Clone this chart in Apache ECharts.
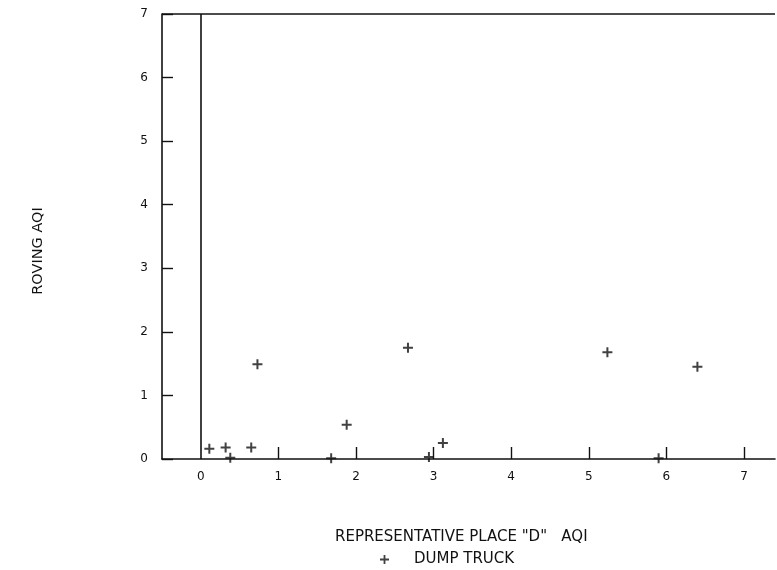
<!DOCTYPE html>
<html>
<head>
<meta charset="utf-8">
<title>Roving vs Representative Place D AQI</title>
<script src="https://cdn.jsdelivr.net/npm/echarts@6/dist/echarts.min.js"></script>
<style>
  html, body { margin: 0; padding: 0; background: #fff; }
  #chart { width: 777px; height: 570px; }
</style>
</head>
<body>
<div id="chart"></div>
<script>
// Dump truck readings: representative place "D" AQI (x) vs roving AQI (y)
const truckX = [0.11, 0.32, 0.65, 0.73, 0.38, 1.68, 1.88, 2.67, 2.94, 3.12, 5.24, 5.90, 6.40];
const truckY = [0.16, 0.18, 0.18, 1.49, 0.02, 0.01, 0.54, 1.75, 0.03, 0.25, 1.68, 0.01, 1.45];

// Axis tick values
const xLabelValues = [0, 1, 2, 3, 4, 5, 6, 7];
const xTickValues = [1, 2, 3, 4, 5, 6, 7];
const yTickValues = [0, 1, 2, 3, 4, 5, 6, 7];

const seriesName = 'DUMP TRUCK';
const xTitle = 'REPRESENTATIVE PLACE "D"   AQI';
const yTitle = 'ROVING AQI';

const ink = '#111111';
const font = '"DejaVu Sans", sans-serif';
const plus = 'path://M4,0h2v4h4v2h-4v4h-2v-4h-4v-2h4z';

const points = truckX.map((x, i) => [x, truckY[i]]);

const chart = echarts.init(document.getElementById('chart'), null, { renderer: 'canvas' });

chart.setOption({
  backgroundColor: '#ffffff',
  animation: false,
  grid: { left: 162, top: 14, right: 2, bottom: 111, containLabel: false },
  xAxis: {
    type: 'value',
    min: -0.5,
    max: 7.4,
    axisLine: { show: true, onZero: false, lineStyle: { color: ink, width: 1.6 } },
    axisTick: { show: true, inside: true, length: 12, customValues: xTickValues,
                lineStyle: { color: ink, width: 1.4 } },
    axisLabel: { show: true, customValues: xLabelValues, margin: 12,
                 fontFamily: font, fontSize: 12, color: ink },
    splitLine: { show: false }
  },
  yAxis: {
    type: 'value',
    min: 0,
    max: 7,
    interval: 1,
    axisLine: { show: true, onZero: false, lineStyle: { color: ink, width: 1.6 } },
    axisTick: { show: true, inside: true, length: 11, customValues: yTickValues,
                lineStyle: { color: ink, width: 1.4 } },
    axisLabel: { show: true, customValues: yTickValues, margin: 14,
                 fontFamily: font, fontSize: 12, color: ink },
    splitLine: { show: false }
  },
  legend: {
    data: [{ name: seriesName, icon: plus }],
    left: 380,
    top: 552,
    itemWidth: 9,
    itemHeight: 9,
    itemGap: 0,
    padding: 0,
    textStyle: { fontFamily: font, fontSize: 15, color: ink, padding: [0, 0, 0, 20] }
  },
  series: [{
    name: seriesName,
    type: 'scatter',
    symbol: plus,
    symbolSize: 10,
    itemStyle: { color: ink },
    data: points,
    markLine: {
      silent: true,
      symbol: ['none', 'none'],
      label: { show: false },
      lineStyle: { color: ink, width: 1.6, type: 'solid' },
      data: [{ xAxis: 0 }, { yAxis: 7 }]
    }
  }],
  graphic: [
    {
      type: 'text',
      x: 38, y: 251,
      rotation: Math.PI / 2,
      style: { text: yTitle, font: '14.5px ' + font, fill: ink,
               textAlign: 'center', textVerticalAlign: 'middle' }
    },
    {
      type: 'text',
      x: 335, y: 537,
      style: { text: xTitle, font: '15px ' + font, fill: ink,
               textAlign: 'left', textVerticalAlign: 'middle' }
    }
  ]
});
</script>
</body>
</html>
